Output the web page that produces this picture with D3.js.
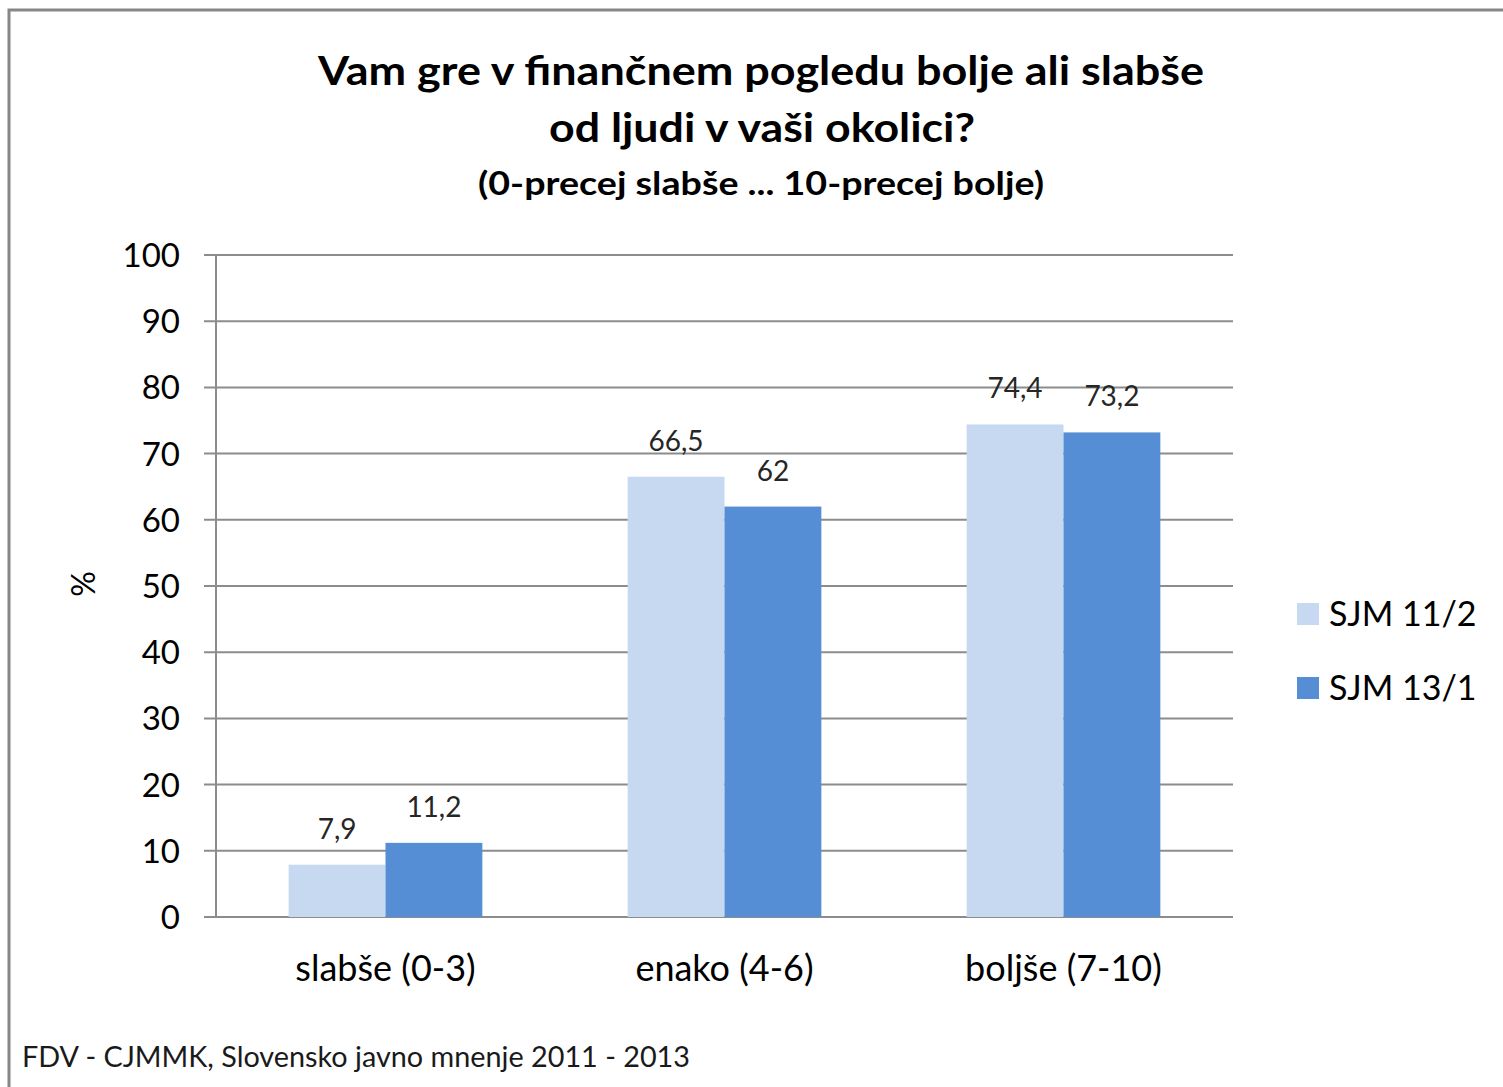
<!DOCTYPE html>
<html>
<head>
<meta charset="utf-8">
<script src="https://cdn.jsdelivr.net/npm/d3@7"></script>
<style>
  body { margin: 0; background: #fff; }
  text { font-family: Lato, "Open Sans", sans-serif; }
</style>
</head>
<body>
<div id="container"></div>
<script>
'use strict';

const categories = ['slabše (0-3)', 'enako (4-6)', 'boljše (7-10)'];
const seriesNames = ['SJM 11/2', 'SJM 13/1'];
const sjm112 = [7.9, 66.5, 74.4];
const sjm131 = [11.2, 62, 73.2];
const yTicks = [0, 10, 20, 30, 40, 50, 60, 70, 80, 90, 100];
const colors = ['#c6d9f1', '#558ed5'];

const w = 1503;
const h = 1087;
const plotLeft = 216, plotRight = 1233, plotTop = 255, plotBottom = 917;

const svg = d3.select('#container')
                .append('svg')
                .attr('width', w)
                .attr('height', h);

// frame (only top and left edges show in the picture)
svg.append('path')
    .attr('d', 'M9,' + h + ' V10 H' + w)
    .attr('fill', 'none')
    .attr('stroke', '#878787')
    .attr('stroke-width', 3);

const title = svg.append('text')
    .attr('text-anchor', 'middle')
    .attr('font-weight', 'bold')
    .attr('fill', '#000');
title.append('tspan').attr('x', 761).attr('y', 85).attr('font-size', 41)
    .attr('textLength', 886).attr('lengthAdjust', 'spacingAndGlyphs')
    .text('Vam gre v finančnem pogledu bolje ali slabše');
title.append('tspan').attr('x', 762).attr('y', 142).attr('font-size', 41)
    .attr('textLength', 426).attr('lengthAdjust', 'spacingAndGlyphs')
    .text('od ljudi v vaši okolici?');
title.append('tspan').attr('x', 761).attr('y', 195).attr('font-size', 33)
    .attr('textLength', 566).attr('lengthAdjust', 'spacingAndGlyphs')
    .text('(0-precej slabše ... 10-precej bolje)');

const xScale = d3.scaleBand()
                    .domain(categories)
                    .range([plotLeft, plotRight]);
const xInner = d3.scaleBand()
                    .domain(seriesNames)
                    .range([0, xScale.bandwidth()])
                    .paddingInner(0)
                    .paddingOuter(0.75);
const yScale = d3.scaleLinear()
                    .domain([0, 100])
                    .range([plotBottom, plotTop]);

// gridlines
svg.append('g')
    .selectAll('line')
    .data(yTicks)
    .enter()
    .append('line')
    .attr('x1', plotLeft - 12)
    .attr('x2', plotRight)
    .attr('y1', (d) => yScale(d))
    .attr('y2', (d) => yScale(d))
    .attr('stroke', '#8c8c8c')
    .attr('stroke-width', 2);

svg.append('line')
    .attr('x1', plotLeft).attr('x2', plotLeft)
    .attr('y1', plotTop).attr('y2', plotBottom)
    .attr('stroke', '#8c8c8c')
    .attr('stroke-width', 2);

svg.append('g')
    .selectAll('text')
    .data(yTicks)
    .enter()
    .append('text')
    .attr('x', 180)
    .attr('y', (d) => yScale(d) + 12)
    .attr('text-anchor', 'end')
    .attr('font-size', 33)
    .attr('fill', '#000')
    .text((d) => d);

svg.append('text')
    .attr('transform', 'translate(95, 584) rotate(-90)')
    .attr('text-anchor', 'middle')
    .attr('font-size', 32)
    .attr('fill', '#000')
    .text('%');

const rows = categories.map((c, i) => ({ cat: c, vals: [sjm112[i], sjm131[i]] }));

const groups = svg.selectAll('.grp')
    .data(rows)
    .enter()
    .append('g')
    .attr('class', 'grp')
    .attr('transform', (d) => 'translate(' + xScale(d.cat) + ',0)');

groups.selectAll('rect')
    .data((d) => d.vals.map((v, j) => ({ name: seriesNames[j], v: v, j: j })))
    .enter()
    .append('rect')
    .attr('x', (d) => xInner(d.name))
    .attr('width', xInner.bandwidth())
    .attr('y', (d) => yScale(d.v))
    .attr('height', (d) => yScale(0) - yScale(d.v))
    .attr('fill', (d) => colors[d.j]);

groups.selectAll('.lbl')
    .data((d) => d.vals.map((v, j) => ({ name: seriesNames[j], v: v })))
    .enter()
    .append('text')
    .attr('class', 'lbl')
    .attr('x', (d) => xInner(d.name) + xInner.bandwidth() / 2)
    .attr('y', (d) => yScale(d.v) - 26)
    .attr('text-anchor', 'middle')
    .attr('font-size', 28)
    .attr('fill', '#262626')
    .text((d) => String(d.v).replace('.', ','));

svg.append('g')
    .selectAll('text')
    .data(categories)
    .enter()
    .append('text')
    .attr('x', (d) => xScale(d) + xScale.bandwidth() / 2)
    .attr('y', 981)
    .attr('text-anchor', 'middle')
    .attr('font-size', 36)
    .attr('fill', '#000')
    .text((d) => d);

// legend
const legend = svg.append('g')
    .selectAll('g')
    .data(seriesNames)
    .enter()
    .append('g')
    .attr('transform', (d, i) => 'translate(1297,' + (603 + i * 74) + ')');
legend.append('rect')
    .attr('width', 22)
    .attr('height', 22)
    .attr('fill', (d, i) => colors[i]);
legend.append('text')
    .attr('x', 32)
    .attr('y', 23)
    .attr('font-size', 34)
    .attr('fill', '#000')
    .text((d) => d);

svg.append('text')
    .attr('x', 22)
    .attr('y', 1067)
    .attr('font-size', 28)
    .attr('textLength', 668)
    .attr('lengthAdjust', 'spacingAndGlyphs')
    .attr('fill', '#1a1a1a')
    .text('FDV - CJMMK, Slovensko javno mnenje 2011 - 2013');
</script>
</body>
</html>
